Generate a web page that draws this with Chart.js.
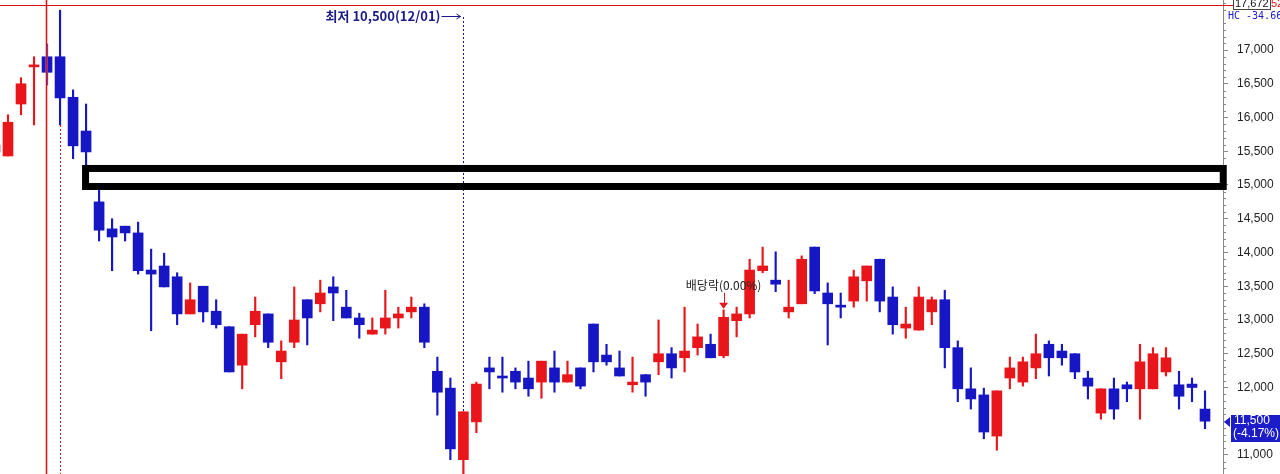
<!DOCTYPE html>
<html>
<head>
<meta charset="utf-8">
<script src="https://cdn.jsdelivr.net/npm/chart.js@4"></script>
<style>
    html, body { margin: 0; padding: 0; background: #fff; }
    #wrap { width: 1280px; height: 474px; }
</style>
</head>
<body>
<div id="wrap"><canvas id="candle-chart" width="1280" height="474"></canvas></div>
<script>
// daily candles, oldest first (index 0 is cut off at the left edge)
const opens  = [15490, 15430, 16200, 16750, 16900, 16900, 16300, 15800, 14750, 14350,
                14390, 14290, 13740, 13800, 13640, 13090, 13500, 13130, 12900, 12330,
                12930, 13090, 12380, 12670, 13300, 13240, 13490, 13190, 13030, 12790,
                12880, 13030, 13120, 13190, 12240, 11990, 10930, 11490, 12290, 12140,
                12240, 12140, 12080, 12290, 12080, 12290, 12940, 12480, 12290, 12040,
                12190, 12380, 12500, 12440, 12590, 12640, 12470, 12990, 13090, 13730,
                13590, 13120, 13240, 14080, 13400, 13190, 13280, 13580, 13900, 13340,
                12880, 12850, 13120, 13300, 12590, 11980, 11890, 11280, 12140, 12080,
                12290, 12640, 12540, 12500, 12140, 11620, 11980, 12040, 11980, 11980,
                12230, 12040, 12050, 11680];
const highs  = [15600, 16040, 16590, 16900, 17090, 17590, 16410, 16200, 14950, 14500,
                14390, 14450, 14050, 13990, 13700, 13550, 13500, 13300, 12900, 12790,
                13340, 13090, 12690, 13490, 13300, 13590, 13640, 13440, 13100, 13030,
                13440, 13190, 13340, 13240, 12450, 12140, 11640, 12080, 12450, 12450,
                12290, 12390, 12390, 12540, 12390, 12290, 12940, 12640, 12540, 12450,
                12190, 13000, 12590, 13190, 12940, 12790, 13150, 13190, 13900, 14080,
                14010, 13590, 13950, 14080, 13550, 13400, 13740, 13800, 13900, 13490,
                13190, 13490, 13340, 13440, 12690, 12290, 11990, 11950, 12450, 12450,
                12790, 12690, 12640, 12500, 12240, 11980, 12140, 12080, 12640, 12590,
                12590, 12240, 12140, 11950];
const lows   = [15480, 15430, 16040, 15890, 16480, 15890, 15390, 15300, 14170, 13730,
                14170, 13680, 12840, 13490, 12930, 13090, 12970, 12880, 12230, 11980,
                12750, 12590, 12130, 12590, 12630, 13120, 12990, 13030, 12730, 12790,
                12790, 12880, 13030, 12590, 11590, 10930, 10500, 11330, 11980, 11930,
                11980, 11870, 11840, 11930, 12080, 11980, 12230, 12330, 12170, 11930,
                11870, 12190, 12140, 12230, 12480, 12440, 12440, 12750, 13030, 13700,
                13420, 13030, 13240, 13390, 12630, 13030, 13190, 13280, 13120, 12790,
                12730, 12850, 12930, 12290, 11790, 11680, 11240, 11070, 11980, 12020,
                12130, 12170, 12330, 12130, 11830, 11530, 11530, 11790, 11530, 11980,
                12170, 11680, 11790, 11390];
const closes = [15590, 15930, 16500, 16750, 16670, 16290, 15580, 15490, 14330, 14230,
                14290, 13730, 13680, 13490, 13090, 13300, 13120, 12930, 12230, 12790,
                13130, 12670, 12540, 13000, 13030, 13400, 13400, 13030, 12930, 12850,
                13030, 13090, 13190, 12670, 11930, 11090, 11640, 12050, 12230, 12140,
                12080, 11980, 12390, 12080, 12190, 12020, 12380, 12380, 12170, 12080,
                12080, 12500, 12290, 12540, 12750, 12440, 13040, 13090, 13740, 13800,
                13530, 13190, 13900, 13430, 13240, 13190, 13640, 13800, 13280, 12930,
                12940, 13340, 13300, 12590, 11980, 11830, 11340, 11950, 12290, 12380,
                12500, 12440, 12440, 12230, 12020, 11980, 11680, 11980, 12380, 12500,
                12440, 11870, 12000, 11500];

const yTicks = [11000, 11500, 12000, 12500, 13000, 13500, 14000, 14500, 15000, 15500, 16000, 16500, 17000];
const yMin = 10718, yMax = 17741, minorStep = 100;
const xMin = 0.385, xMax = 94.382;

// marks drawn on top of the candles
const highIndex = 5;
const lowIndex = 36;
const lowLabel = '최저 10,500(12/01)';
const dividendIndex = 56;
const dividendLabel = '배당락(0.00%)';
const cursor = { x: 3.92, y: 17672, label: '17,672' };
const box = { x1: 6.96, x2: 94.4, y1: 15245, y2: 14978 };
const lastChange = '(-4.17%)';

const RED = '#e8161b';
const BLUE = '#1616c4';

const candleColors = closes.map((c, i) => {
    if (c > opens[i]) return RED;
    if (c < opens[i]) return BLUE;
    return (i > 0 && c < closes[i - 1]) ? BLUE : RED;
});

const fmt = v => v.toLocaleString('en-US');

const marks = {
    id: 'marks',
    afterDraw(chart) {
        const c = chart.ctx;
        const xs = chart.scales.x, ys = chart.scales.y;
        const area = chart.chartArea;
        c.save();

        // red dashed line below the high candle
        c.strokeStyle = '#d01010';
        c.lineWidth = 1;
        c.setLineDash([2, 2]);
        let px = Math.round(xs.getPixelForValue(highIndex)) + 0.5;
        c.beginPath();
        c.moveTo(px, ys.getPixelForValue(lows[highIndex]));
        c.lineTo(px, area.bottom);
        c.stroke();

        // lowest price marker
        px = Math.round(xs.getPixelForValue(lowIndex)) + 0.5;
        c.strokeStyle = '#1a1a8a';
        c.beginPath();
        c.moveTo(px, 17);
        c.lineTo(px, ys.getPixelForValue(highs[lowIndex]));
        c.stroke();
        c.setLineDash([]);
        c.beginPath();
        c.moveTo(px - 22, 16.5);
        c.lineTo(px - 3, 16.5);
        c.moveTo(px - 7, 14);
        c.lineTo(px - 3, 16.5);
        c.lineTo(px - 7, 19);
        c.stroke();
        c.fillStyle = '#1a1a8a';
        c.font = 'bold 13px "Noto Sans CJK KR"';
        c.textAlign = 'right';
        c.textBaseline = 'middle';
        c.fillText(lowLabel, px - 23, 16);

        // dividend arrow
        px = xs.getPixelForValue(dividendIndex);
        const top = ys.getPixelForValue(highs[dividendIndex]);
        c.fillStyle = '#222';
        c.font = '12px "Noto Sans CJK KR"';
        c.textAlign = 'center';
        c.fillText(dividendLabel, px, top - 24);
        c.strokeStyle = RED;
        c.fillStyle = RED;
        c.beginPath();
        c.moveTo(Math.round(px) + 0.5, top - 17);
        c.lineTo(Math.round(px) + 0.5, top - 6);
        c.stroke();
        c.beginPath();
        c.moveTo(px - 4.5, top - 7);
        c.lineTo(px + 4.5, top - 7);
        c.lineTo(px, top - 1);
        c.closePath();
        c.fill();

        // crosshair
        const cx = Math.round(xs.getPixelForValue(cursor.x));
        const cy = Math.round(ys.getPixelForValue(cursor.y));
        c.fillStyle = 'rgba(235,110,110,0.45)';
        c.fillRect(cx - 1, 0, 3, area.bottom);
        c.fillStyle = '#d81010';
        c.fillRect(cx, 0, 1, area.bottom);
        c.fillRect(0, cy, 1233, 1);
        c.fillStyle = '#fff';
        c.fillRect(1233, -2, 37, 12);
        c.strokeStyle = '#444';
        c.strokeRect(1233.5, -2.5, 37, 12);
        c.fillStyle = '#111';
        c.font = '11px "Liberation Sans"';
        c.textAlign = 'left';
        c.textBaseline = 'middle';
        c.fillText(cursor.label, 1235, 4);
        c.fillStyle = RED;
        c.fillText('52', 1271, 4);
        c.fillStyle = '#1a1ad0';
        c.font = '10px "DejaVu Sans Mono"';
        c.fillText('HC -34.66', 1228, 16);

        // highlight box
        c.strokeStyle = '#000';
        c.lineWidth = 7;
        const bx1 = xs.getPixelForValue(box.x1), bx2 = xs.getPixelForValue(box.x2);
        const by1 = ys.getPixelForValue(box.y1), by2 = ys.getPixelForValue(box.y2);
        c.strokeRect(bx1, by1, bx2 - bx1, by2 - by1);

        // last price badge
        const last = closes[closes.length - 1];
        const py = Math.round(ys.getPixelForValue(last));
        c.fillStyle = '#1c1cc8';
        c.fillRect(1231, py - 6, 49, 27);
        c.beginPath();
        c.moveTo(1224, py + 1);
        c.lineTo(1230, py - 4);
        c.lineTo(1230, py + 6);
        c.closePath();
        c.fill();
        c.fillStyle = '#fff';
        c.font = '12px "Liberation Sans"';
        c.fillText(fmt(last), 1234, py);
        c.fillText(lastChange, 1233, py + 13);

        c.restore();
    },
    afterDatasetsDraw(chart) {
        // minor ticks on the price axis
        const ys = chart.scales.y;
        const c = chart.ctx;
        c.save();
        c.fillStyle = '#888';
        for (let v = Math.ceil(yMin / minorStep) * minorStep; v <= yMax; v += minorStep) {
            if (v % 500 === 0) continue;
            c.fillRect(ys.left, Math.round(ys.getPixelForValue(v)), 3, 1);
        }
        c.restore();
    }
};

new Chart(document.getElementById('candle-chart'), {
    type: 'bar',
    data: {
        datasets: [
            {
                label: 'body',
                data: opens.map((o, i) => ({ x: i, y: [o, closes[i]] })),
                backgroundColor: candleColors,
                barThickness: 10,
                minBarLength: 2,
                grouped: false
            },
            {
                label: 'wick',
                data: lows.map((l, i) => ({ x: i, y: [l, highs[i]] })),
                backgroundColor: candleColors,
                barThickness: 1.5,
                grouped: false
            }
        ]
    },
    options: {
        responsive: false,
        animation: false,
        layout: { padding: 0 },
        plugins: { legend: { display: false }, tooltip: { enabled: false } },
        scales: {
            x: { type: 'linear', min: xMin, max: xMax, display: false, offset: false },
            y: {
                position: 'right',
                min: yMin,
                max: yMax,
                afterBuildTicks: s => { s.ticks = yTicks.map(v => ({ value: v })); },
                afterFit: s => { s.width = 57; s.paddingTop = 0; s.paddingBottom = 0; },
                grid: { drawOnChartArea: false, tickLength: 5, color: '#888' },
                border: { color: '#888' },
                ticks: {
                    padding: 9,
                    color: '#222',
                    font: { family: 'Liberation Sans', size: 12 },
                    callback: v => fmt(v)
                }
            }
        }
    },
    plugins: [marks]
});
</script>
</body>
</html>
